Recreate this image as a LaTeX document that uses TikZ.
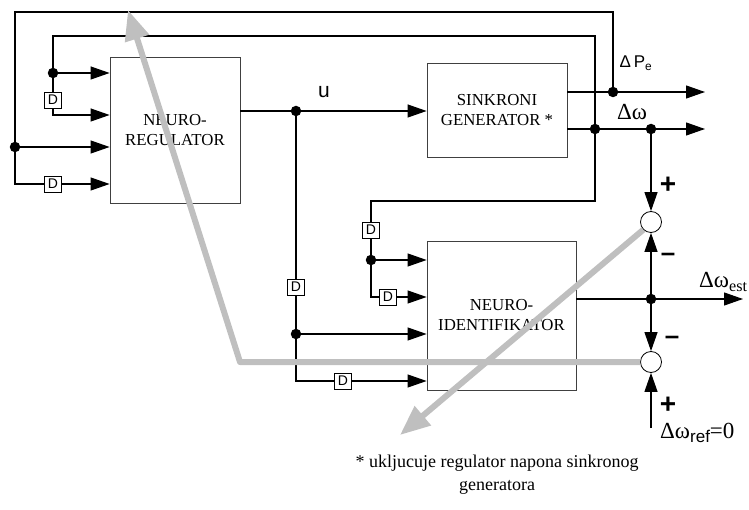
\documentclass[tikz,border=0pt]{standalone}
\usepackage{fontspec}
\setmainfont{Liberation Serif}
\setsansfont{Liberation Sans}
\usetikzlibrary{arrows.meta,positioning}

\begin{document}
\begin{tikzpicture}[
    x=1pt, y=-1pt,
    font=\fontsize{16.8}{20}\selectfont,
    blk/.style={draw=black!75, line width=0.8pt, align=center, inner sep=0pt},
    dly/.style={draw, fill=white, line width=0.8pt, font=\sffamily\fontsize{14}{14}\selectfont, minimum width=17pt, minimum height=16pt, inner sep=0pt},
    dot/.style={circle, fill, inner sep=0pt, minimum size=10.5pt},
    sum/.style={circle, draw, fill=white, line width=0.8pt, inner sep=0pt, minimum size=21pt},
    line/.style={line width=1.1pt},
    arr/.style={line, -{Triangle[length=19pt, width=13pt]}},
    fb/.style={draw=black!25, line width=6pt, line join=round, -{Triangle[length=30pt, width=24pt]}},
    sgn/.style={font=\sffamily\bfseries\fontsize{28}{28}\selectfont, inner sep=0pt},
    neg/.style={font=\sffamily\bfseries\fontsize{26}{26}\selectfont, inner sep=0pt},
    dw/.style={font=\fontsize{23}{23}\selectfont, inner sep=0pt}
]
\useasboundingbox (0,0) rectangle (749,510);

% blocks
\node[blk, minimum width=130pt, minimum height=146pt] (nr) at (175,130) {NEURO-\\REGULATOR};
\node[blk, minimum width=140pt, minimum height=94pt] (sg) at (497,110) {SINKRONI\\GENERATOR *};
\node[blk, minimum width=149pt, minimum height=149pt] (ni) at (501.5,315.5) {NEURO-\\IDENTIFIKATOR};

% junctions
\node[dot] (ja) at (53,73) {};
\node[dot] (jb) at (15,147) {};
\node[dot] (ju) at (296,111) {};
\node[dot] (jp) at (613,92) {};
\node[dot] (jw) at (595,129) {};
\node[dot] (jo) at (651,129) {};
\node[dot] (jc) at (371,260) {};
\node[dot] (jd) at (296,334) {};
\node[dot] (je) at (651,299) {};

% corners and free ends
\coordinate (top1) at (15,12);
\coordinate (top2) at (53,36);
\coordinate (c3) at (595,201);
\coordinate (pe) at (705,92);
\coordinate (we) at (705,129);
\coordinate (ee) at (743,299);
\coordinate (ref) at (651,428);
\coordinate (g1) at (240,362);
\coordinate (g1tip) at (128,10);
\coordinate (g2tip) at (400,435);

% delays
\node[dly] (d1) at (53,100) {D};
\node[dly] (d2) at (53,184) {D};
\node[dly] (d3) at (371,230) {D};
\node[dly] (d4) at (388,297) {D};
\node[dly] (d5) at (296,287) {D};
\node[dly] (d6) at (343,381) {D};

% feedback into neuro-regulator
\draw[line] (jp) |- (top1) |- (d2);
\draw[arr] (d2) -- (d2 -| nr.west);
\draw[arr] (jb) -- (jb -| nr.west);
\draw[line] (d1) -- (top2) -| (c3) -| (d3);
\draw[arr] (ja) -- (ja -| nr.west);
\draw[arr] (d1) |- ([yshift=15pt]nr.west);

% neuro-identifikator inputs
\draw[line] (d3) |- (d4);
\draw[arr] (d4) -- (d4 -| ni.west);
\draw[arr] (jc) -- (jc -| ni.west);
\draw[arr] (ju -| nr.east) -- (ju -| sg.west);
\draw[line] (ju) -- (d5);
\draw[line] (d5) |- (d6);
\draw[arr] (jd) -- (jd -| ni.west);
\draw[arr] (d6) -- (d6 -| ni.west);

% outputs
\draw[arr] (jp -| sg.east) -- (pe);
\draw[arr] (jw -| sg.east) -- (we);
\draw[arr] (je -| ni.east) -- (ee);

% summing points
\node[sum] (s1) at (651,222) {};
\node[sum] (s2) at (651,362) {};
\draw[arr] (jo) -- (s1);
\draw[arr] (je) -- (s1);
\draw[arr] (je) -- (s2);
\draw[arr] (ref) -- (s2);

% labels
\node[font=\sffamily\fontsize{21}{21}\selectfont] (lu) at (324,92) {u};
\node[font=\sffamily\fontsize{17}{17}\selectfont] (lpe) at (636,63) {Δ\,P\textsubscript{e}};
\node[dw] (lw) at (632,112) {Δω};
\node[dw, anchor=west] (lest) at (699,282) {Δω\textsubscript{est}};
\node[dw, anchor=west] (lref) at (660,433) {Δω{\sffamily\fontsize{17}{17}\selectfont\raisebox{-4pt}{ref}}=0};
\node[sgn] (p1) at (668,185) {+};
\node[neg] (m1) at (668,257) {–};
\node[neg] (m2) at (672,340) {–};
\node[sgn] (p2) at (668,405) {+};

% learning signals
\draw[fb] (s2.west) -- (g1) -- (g1tip);
\draw[fb] (s1.south west) -- (g2tip);

% note
\node[font=\fontsize{18}{23}\selectfont, align=center] (note) at (497,475) {* ukljucuje regulator napona sinkronog\\generatora};
\end{tikzpicture}
\end{document}
